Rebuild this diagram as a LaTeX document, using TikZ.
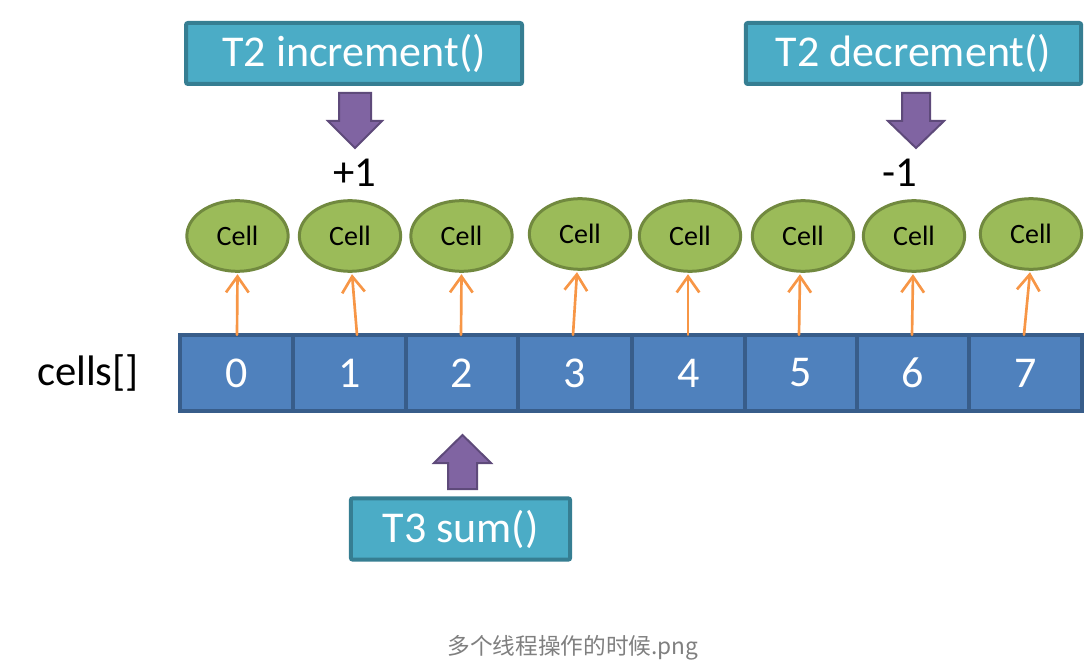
\documentclass[tikz,border=0pt]{standalone}
\usepackage{fontspec}
\setmainfont{Carlito}
\newfontfamily\cjk{Noto Sans CJK SC}
\usetikzlibrary{shapes.geometric,arrows.meta}
\definecolor{boxfill}{HTML}{4BACC6}
\definecolor{boxline}{HTML}{367E92}
\definecolor{purfill}{HTML}{8064A2}
\definecolor{purline}{HTML}{5E4A7A}
\definecolor{grnfill}{HTML}{9BBB59}
\definecolor{grnline}{HTML}{71893F}
\definecolor{bluefill}{HTML}{4F81BD}
\definecolor{blueline}{HTML}{385D8A}
\definecolor{orng}{HTML}{F79646}
\definecolor{capgray}{HTML}{7F7F7F}
\tikzset{
  tbox/.style={draw=boxline, fill=boxfill, line width=3pt, rounded corners=1.5pt,
    text=white, font=\fontsize{33}{36}\selectfont, inner sep=0pt, minimum height=45.75pt},
  parrow/.style={draw=purline, fill=purfill, line width=1.5pt, line join=miter},
  cellov/.style={ellipse, draw=grnline, fill=grnfill, line width=2.25pt,
    minimum width=76pt, minimum height=53pt, inner sep=0pt, font=\fontsize{21}{24}\selectfont},
  arrcell/.style={rectangle, draw=blueline, fill=bluefill, line width=2.4pt,
    minimum height=57pt, inner sep=0pt, text=white, font=\fontsize{33}{36}\selectfont},
  oarrow/.style={draw=orng, line width=2pt, line cap=round,
    -{Straight Barb[length=12pt,width=17pt,line width=2pt]}},
  plain/.style={inner sep=0pt, font=\fontsize{32}{36}\selectfont}
}
\begin{document}
\begin{tikzpicture}[x=0.75pt, y=-0.75pt]
\useasboundingbox (0,0) rectangle (1086,663);
% top boxes
\node[tbox, minimum width=252pt] (inc) at (354,53.5) {T2 increment()};
\node[tbox, minimum width=251.5pt] (dec) at (913.5,53.5) {T2 decrement()};
\node[tbox, minimum width=164.5pt, minimum height=46pt] (sum) at (460.5,529) {T3 sum()};
% purple block arrows
\coordinate (a1) at (355,93);
\coordinate (a2) at (916,93);
\coordinate (a3) at (462.5,489);
\draw[parrow] (a1) ++(-16,0) -- ++(32,0) -- ++(0,28) -- ++(11,0) -- ++(-27,27) -- ++(-27,-27) -- ++(11,0) -- cycle;
\draw[parrow] (a2) ++(-14,0) -- ++(28,0) -- ++(0,28) -- ++(14,0) -- ++(-28,27) -- ++(-28,-27) -- ++(14,0) -- cycle;
\draw[parrow] (a3) ++(-14.5,0) -- ++(29,0) -- ++(0,-26) -- ++(14,0) -- ++(-28.5,-28) -- ++(-28.5,28) -- ++(14,0) -- cycle;
% +1 / -1
\node[plain] (plus) at (355,173) {+1};
\node[plain] (minus) at (900,173) {-1};
% label
\node[plain] (lbl) at (88,373) {cells[]};
% array cells
\foreach \i/\l/\r in {0/180/293, 1/293/406, 2/406/518, 3/518/632, 4/632/745, 5/745/857, 6/857/969, 7/969/1082}{
  \node[arrcell, minimum width={(\r-\l)*0.75pt}] (c\i) at ({(\l+\r)/2},373) {\i};
}
% cell ellipses
\foreach \i/\x/\y in {0/237.5/236, 1/350/236, 2/461.5/236, 3/580/234, 4/690/236, 5/803/236, 6/914/236, 7/1031/234}{
  \node[cellov] (e\i) at (\x,\y) {Cell};
}
% orange arrows
\foreach \i/\dx/\ex in {0/0.5/0, 1/7.5/2, 2/-1/0, 3/-2/-3, 4/-0.5/-2, 5/-2/-3, 6/-1/-1, 7/-1.5/-1}{
  \draw[oarrow] ([xshift=\dx*0.75pt, yshift=-1pt]c\i.north) -- ([xshift=\ex*0.75pt, yshift=-1pt]e\i.south);
}
% caption
\node[inner sep=0pt, text=capgray, font=\fontsize{17}{20}\selectfont] (cap) at (573,648) {\cjk 多个线程操作的时候.png};
\end{tikzpicture}
\end{document}
